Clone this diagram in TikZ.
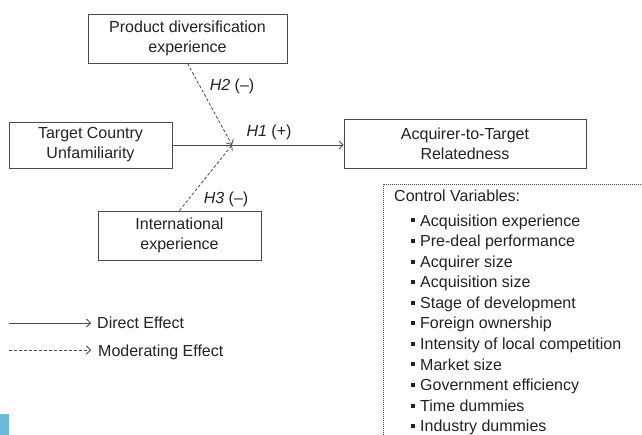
\documentclass[tikz,border=0pt]{standalone}
\usepackage{fontspec}
\setmainfont{Liberation Sans}
\usetikzlibrary{arrows.meta}
\definecolor{txt}{HTML}{222222}
\definecolor{ln}{HTML}{4A4A4A}
\definecolor{tab}{HTML}{6DB9DA}
\begin{document}
\begin{tikzpicture}[x=1pt,y=-1pt, font=\fontsize{16}{20}\selectfont, text=txt,
 box/.style={draw=ln, line width=0.8pt, align=center, inner sep=0pt},
 eff/.style={draw=ln, line width=0.8pt, -{Straight Barb[length=4pt,width=8pt]}},
 mod/.style={eff, dash pattern=on 3pt off 2pt},
 item/.style={anchor=base west, inner sep=0pt},
 bul/.style={fill=txt, minimum size=4pt, inner sep=0pt},
 lbl/.style={inner sep=0pt}]
\useasboundingbox (0,0) rectangle (642,435);
% boxes
\node[box, minimum width=199pt, minimum height=49pt] (pd) at (187.5,38.5) {Product diversification\\experience};
\node[box, minimum width=163pt, minimum height=46pt] (tc) at (90.5,145) {Target Country\\Unfamiliarity};
\node[box, minimum width=163pt, minimum height=49pt] (ie) at (179.5,235.5) {International\\experience};
\node[box, minimum width=242pt, minimum height=49pt] (acq) at (465,143.5) {Acquirer-to-Target\\Relatedness};
\coordinate (j) at (232,145);
% connectors
\draw[eff] (tc.east) -- (tc.east -| acq.west);
\draw[mod] (pd.south) -- (j);
\draw[mod] (ie.north) -- (j);
% labels
\node[lbl] (h2) at (232,86) {\textit{H2} (–)};
\node[lbl] (h1) at (269,132) {\textit{H1} (+)};
\node[lbl] (h3) at (226,199) {\textit{H3} (–)};
% control variables
\draw[ln, line width=0.7pt, dash pattern=on 1pt off 1pt] (383,435) -- (383,184) -- (642,184);
\node[item] (cv) at (394,202) {Control Variables:};
\foreach \t [count=\i from 0] in {Acquisition experience, Pre-deal performance, Acquirer size, Acquisition size, Stage of development, Foreign ownership, Intensity of local competition, Market size, Government efficiency, Time dummies, Industry dummies}{
  \node[item] (it\i) at (420,226.1+20.56*\i) {\t};
  \node[bul] (b\i) at (413,226.1+20.56*\i-5.6) {};
}
% legend
\coordinate (l1s) at (9,323);
\coordinate (l1e) at (91,323);
\coordinate (l2s) at (9,350);
\coordinate (l2e) at (91,350);
\draw[eff] (l1s) -- (l1e);
\draw[mod] (l2s) -- (l2e);
\node[item] (leg1) at (97,329) {Direct Effect};
\node[item] (leg2) at (98,356.5) {Moderating Effect};
% tab
\fill[tab] (0,414) rectangle (9,435);
\end{tikzpicture}
\end{document}
